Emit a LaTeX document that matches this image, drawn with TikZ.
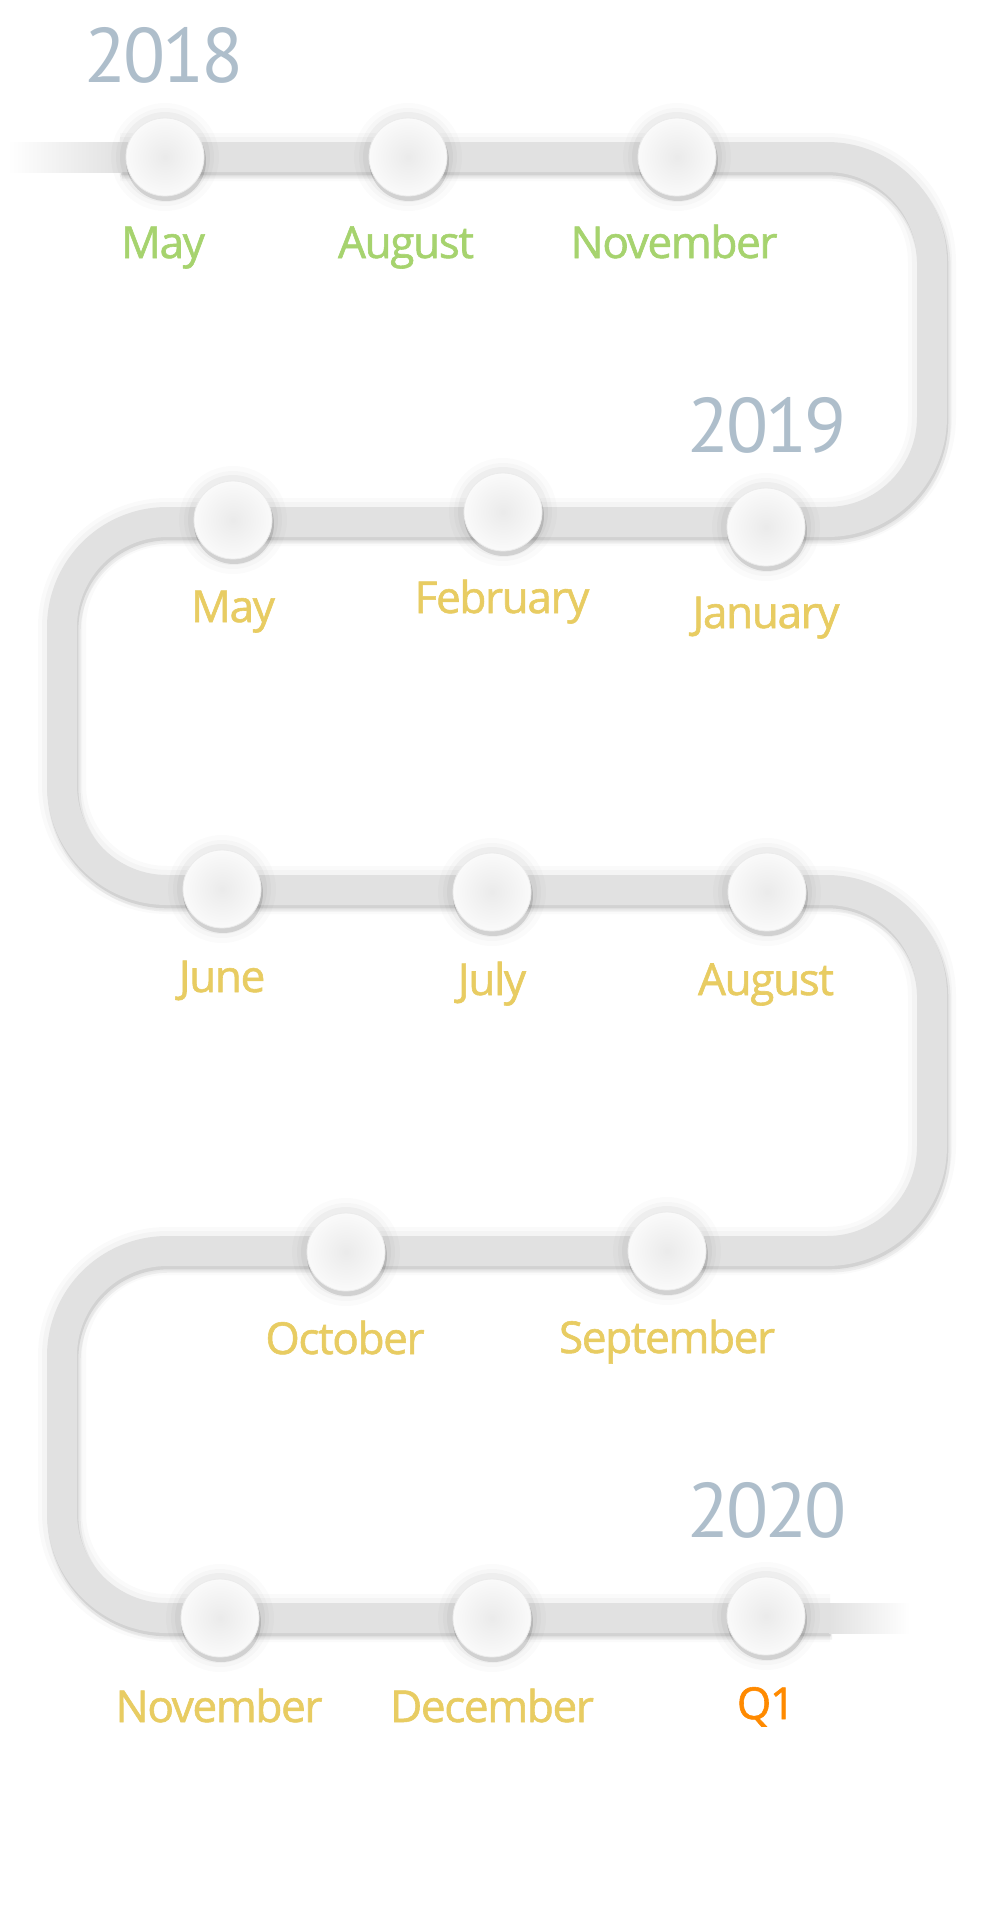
\documentclass[tikz,border=0pt]{standalone}
\usepackage{fontspec}
\setmainfont{PT Sans}
\newfontfamily\yrfont[LetterSpace=-4]{PT Sans}
\newfontfamily\mfont[LetterSpace=-3, FakeBold=1.3]{Open Sans}
\definecolor{trk}{HTML}{E1E1E1}
\definecolor{grn}{HTML}{A6D36E}
\definecolor{ylw}{HTML}{E8CC62}
\definecolor{org}{HTML}{FF8A00}
\definecolor{yrc}{HTML}{AEBECB}
\tikzset{
  trackpath/.style={rounded corners=78.75pt, insert path={(120,157) -- (932,157) -- (932,522) -- (62,522) -- (62,890) -- (932,890) -- (932,1251) -- (62,1251) -- (62,1618) -- (830,1618)}},
  ball/.style={circle, minimum size=58.5pt, inner sep=0pt, inner color=black!8, outer color=white!98!black, shading=radial, draw=black!8, line width=0.6pt},
  mon/.style={anchor=base, font=\mfont\fontsize{33}{33}\selectfont, inner sep=0pt},
  yr/.style={anchor=base, text=yrc, font=\yrfont\fontsize{58}{58}\selectfont, inner sep=0pt}
}
\begin{document}
\begin{tikzpicture}[x=0.75pt,y=-0.75pt]
\useasboundingbox (0,0) rectangle (1000,1920);
\fill[white] (0,0) rectangle (1000,1920);
% track halo and shadow
\draw[line width=36pt, black, opacity=0.02, trackpath];
\draw[line width=30pt, black, opacity=0.025, trackpath];
\draw[line width=25pt, black, opacity=0.05, shift={(2,5)}, trackpath];
\draw[line width=23pt, black, opacity=0.09, shift={(1,3)}, trackpath];
\draw[line width=22.5pt, trk, trackpath];
% faded ends
\shade[left color=white, right color=trk] (8,142) rectangle (121,172);
\shade[left color=trk, right color=white] (829,1603) rectangle (910,1633);
% balls
\foreach \n/\x/\y in {a1/165/157, a2/408/157, a3/677/157,
  b1/233/520, b2/503/512, b3/766/527,
  c1/222/889, c2/492/892, c3/767/892,
  d1/346/1252, d2/667/1251,
  e1/220/1618, e2/492/1618, e3/766/1616} {
  \foreach \r/\o in {54/0.015, 49/0.02, 45/0.03} {
    \fill[black, opacity=\o] (\x,\y) circle[radius=\r*0.75pt];
  }
  \fill[black, opacity=0.12] (\x+1,\y+4) circle[radius=30pt];
  \node[ball] (\n) at (\x,\y) {};
}
% years
\node[yr] (y18) at (164,82) {2018};
\node[yr] (y19) at (767,452) {2019};
\node[yr] (y20) at (767,1537) {2020};
% months
\node[mon, text=grn] (la1) at (163,258) {May};
\node[mon, text=grn] (la2) at (406,258) {August};
\node[mon, text=grn] (la3) at (674,258) {November};
\node[mon, text=ylw] (lb1) at (233,622) {May};
\node[mon, text=ylw] (lb2) at (502,613) {February};
\node[mon, text=ylw] (lb3) at (766,628) {January};
\node[mon, text=ylw] (lc1) at (222,992) {June};
\node[mon, text=ylw] (lc2) at (492,995) {July};
\node[mon, text=ylw] (lc3) at (766,995) {August};
\node[mon, text=ylw] (ld1) at (345,1354) {October};
\node[mon, text=ylw] (ld2) at (667,1353) {September};
\node[mon, text=ylw] (le1) at (219,1722) {November};
\node[mon, text=ylw] (le2) at (492,1722) {December};
\node[mon, text=org] (le3) at (766,1719) {Q1};
\end{tikzpicture}
\end{document}
